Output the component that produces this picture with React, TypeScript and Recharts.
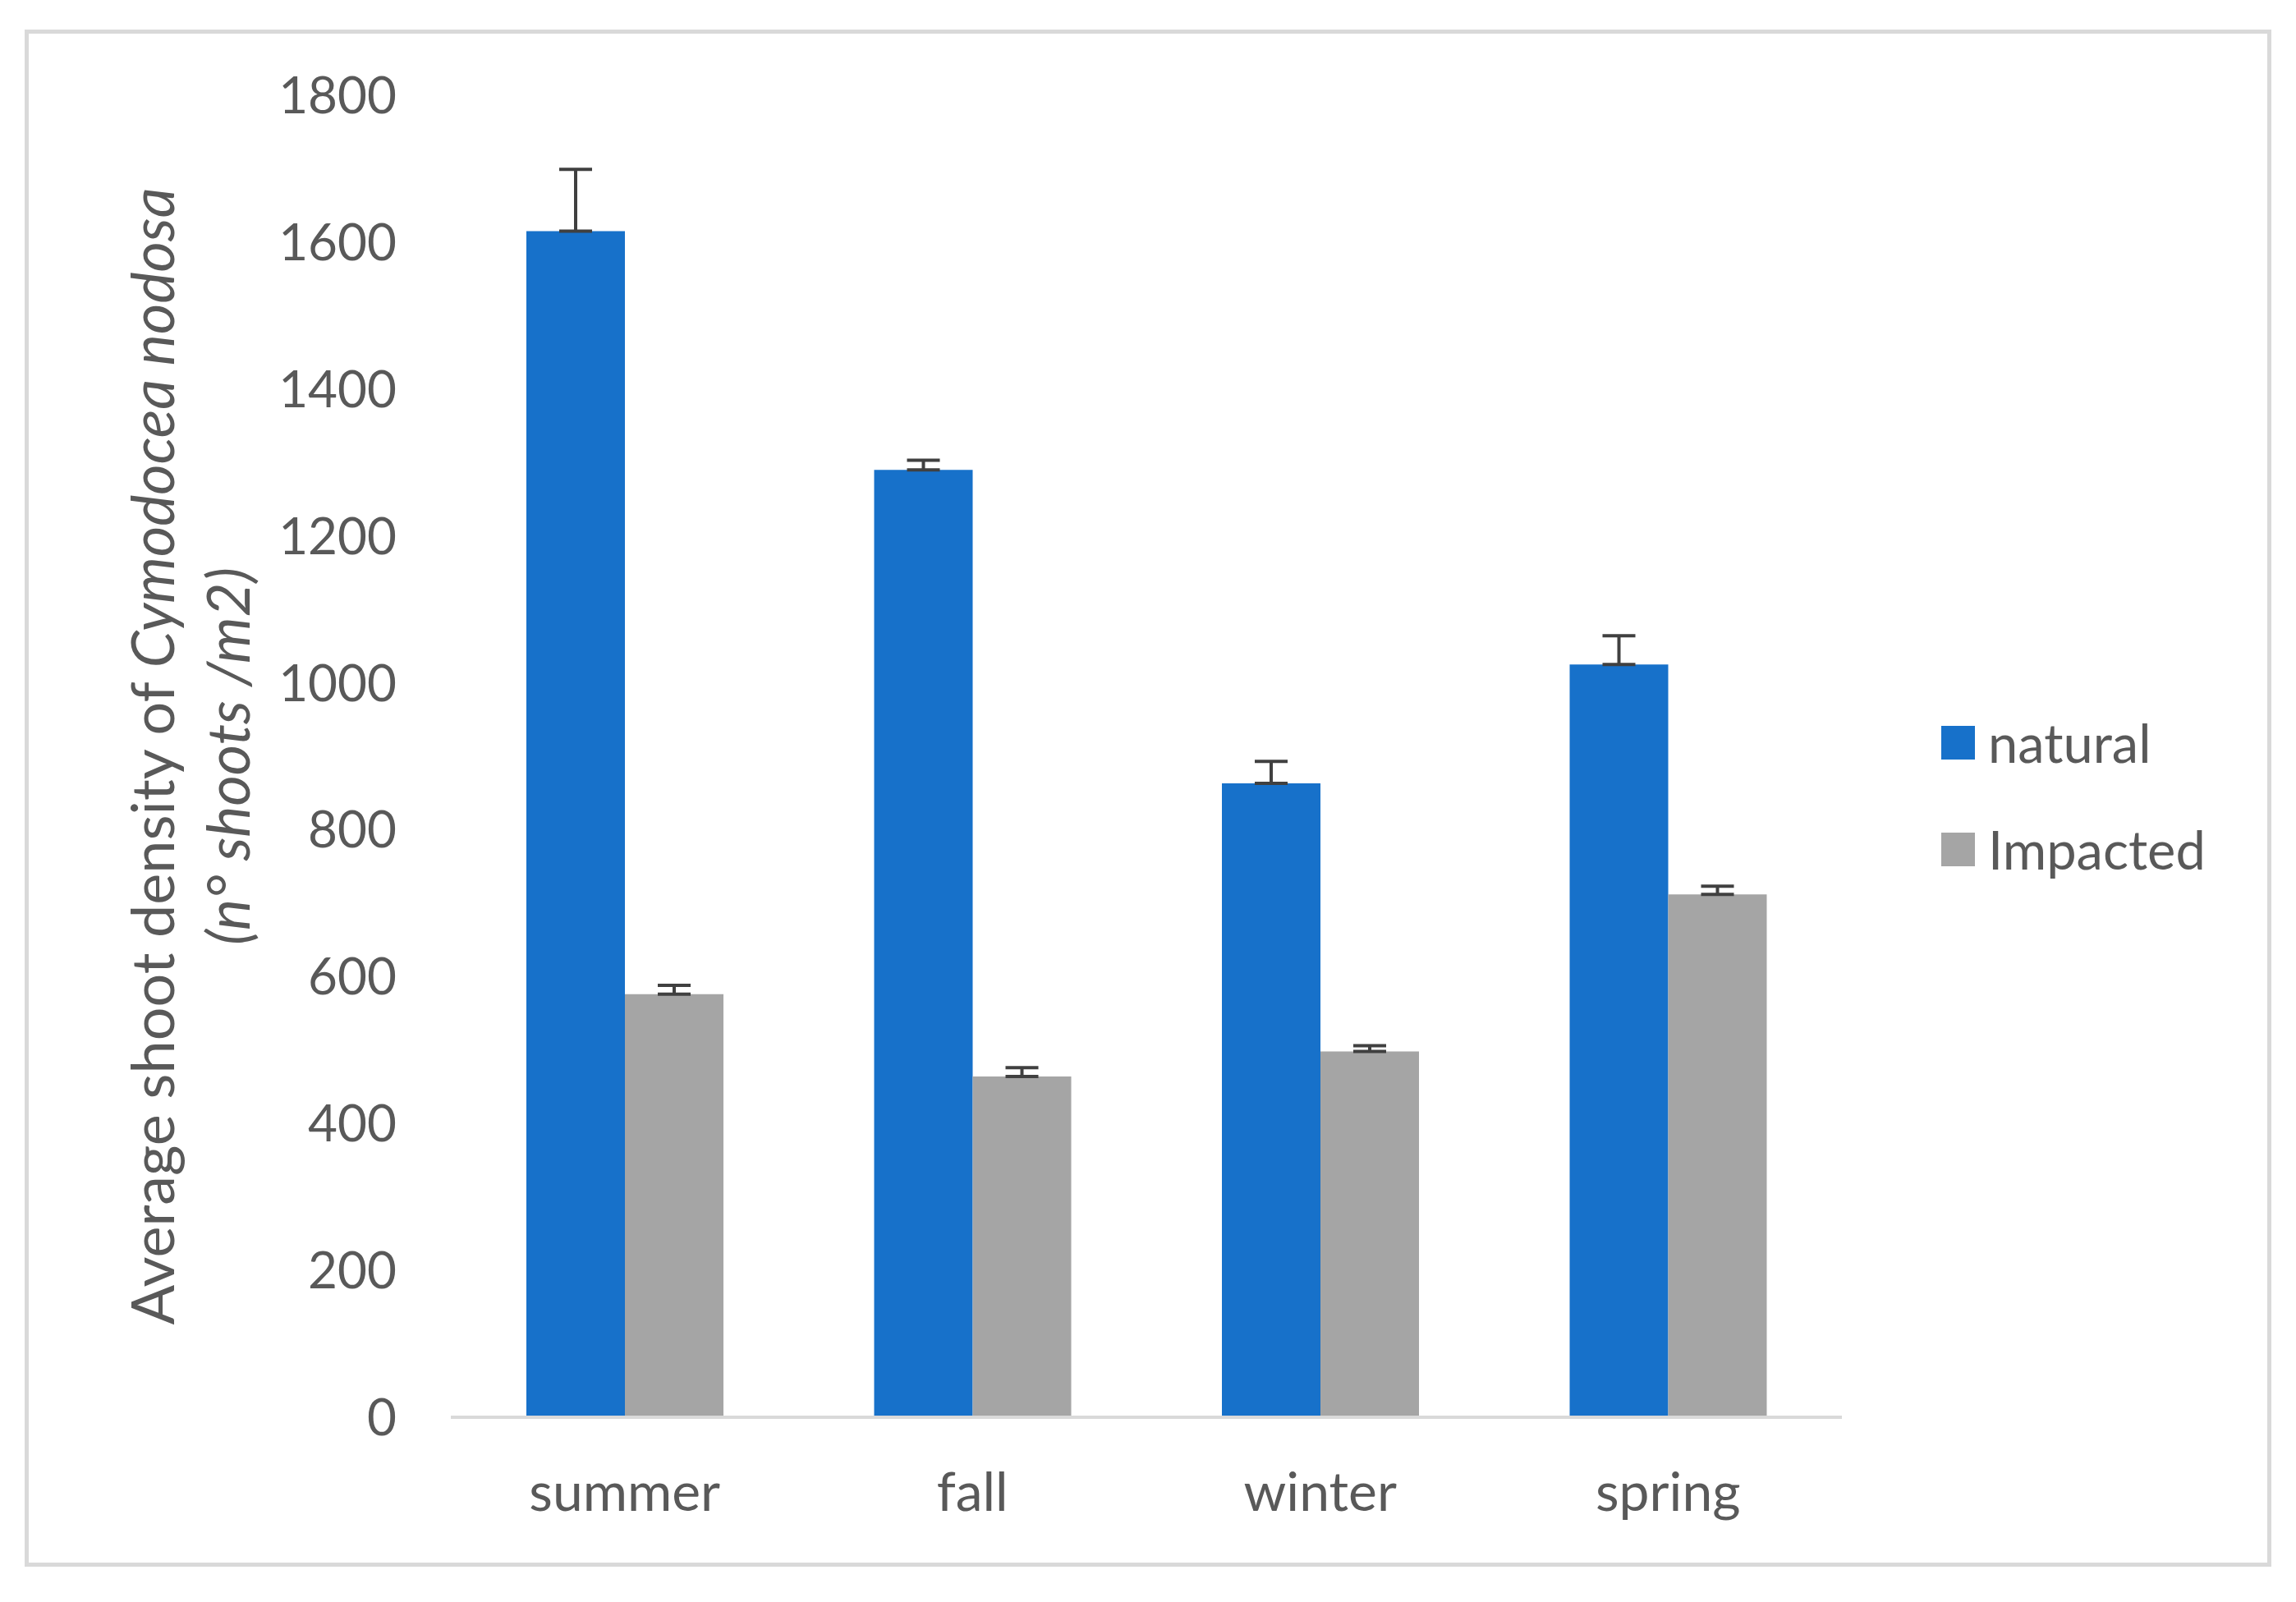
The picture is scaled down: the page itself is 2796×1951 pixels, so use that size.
import React from "react";
import { BarChart, Bar, XAxis, YAxis, ErrorBar } from "recharts";

// seasons on the x axis
const seasons = ["summer", "fall", "winter", "spring"];

// shoots / m2
const naturalValues = [1615, 1290, 863, 1025];
const naturalErrors = [84, 13, 30, 39];
const impactedValues = [576, 464, 498, 712];
const impactedErrors = [12, 12, 8, 11];

const yTicks = [0, 200, 400, 600, 800, 1000, 1200, 1400, 1600, 1800];

const seriesNames = ["natural", "Impacted"];
const seriesColors = ["#1771CA", "#A5A5A5"];

const data = seasons.map((season, i) => ({
  season,
  natural: naturalValues[i],
  naturalErr: [0, naturalErrors[i]],
  impacted: impactedValues[i],
  impactedErr: [0, impactedErrors[i]],
}));

const FONT = "Lato, 'Open Sans', sans-serif";
const TEXT = "#595959";

const YLabel = (props: any) => {
  const { viewBox } = props;
  const cy = viewBox.y + viewBox.height / 2;
  const x1 = viewBox.x - 165;
  const x2 = viewBox.x - 73;
  return (
    <g fill={TEXT} fontFamily={FONT} fontSize={72}>
      <text
        transform={`translate(${x1},${cy}) rotate(-90)`}
        textAnchor="middle"
        dominantBaseline="central"
      >
        Average shoot density of <tspan fontStyle="italic">Cymodocea nodosa</tspan>
      </text>
      <text
        transform={`translate(${x2},${cy}) rotate(-90)`}
        textAnchor="middle"
        dominantBaseline="central"
        fontStyle="italic"
      >
        (n° shoots /m2)
      </text>
    </g>
  );
};

// legend sits beside the plot, kept outside the chart so it does not shrink the plot
const SeriesLegend = () => (
  <div
    style={{
      position: "absolute",
      left: 2364,
      top: 839,
      fontFamily: FONT,
      color: TEXT,
      fontSize: 65,
    }}
  >
    {seriesNames.map((name, i) => (
      <div
        key={name}
        style={{ display: "flex", alignItems: "center", height: 130 }}
      >
        <span
          style={{
            display: "inline-block",
            width: 41,
            height: 41,
            background: seriesColors[i],
            marginRight: 16,
          }}
        />
        <span>{name}</span>
      </div>
    ))}
  </div>
);

export default function App() {
  return (
    <div
      style={{
        position: "absolute",
        left: 0,
        top: 0,
        width: 2796,
        height: 1951,
        background: "#fff",
      }}
    >
      <div
        style={{
          position: "absolute",
          left: 30,
          top: 36,
          width: 2736,
          height: 1872,
          border: "5px solid #d9d9d9",
          boxSizing: "border-box",
        }}
      />
      <div style={{ position: "absolute", left: 0, top: 0 }}>
        <BarChart
          width={2796}
          height={1951}
          data={data}
          margin={{ top: 116, right: 553, bottom: 75, left: 349 }}
          barGap={0}
          barSize={120}
        >
          <XAxis
            dataKey="season"
            tickLine={false}
            axisLine={{ stroke: "#d9d9d9", strokeWidth: 4 }}
            tick={{ fill: TEXT, fontSize: 66, fontFamily: FONT }}
            tickSize={0}
            tickMargin={67}
            height={150}
          />
          <YAxis
            domain={[0, 1800]}
            ticks={yTicks}
            interval={0}
            axisLine={false}
            tickLine={false}
            tickSize={0}
            tickMargin={66}
            width={200}
            tick={{ fill: TEXT, fontSize: 62, fontFamily: FONT }}
            label={{ content: YLabel }}
          />
          <Bar
            dataKey="natural"
            name={seriesNames[0]}
            fill={seriesColors[0]}
            isAnimationActive={false}
          >
            <ErrorBar
              dataKey="naturalErr"
              direction="y"
              width={20}
              strokeWidth={4}
              stroke="#404040"
              isAnimationActive={false}
            />
          </Bar>
          <Bar
            dataKey="impacted"
            name={seriesNames[1]}
            fill={seriesColors[1]}
            isAnimationActive={false}
          >
            <ErrorBar
              dataKey="impactedErr"
              direction="y"
              width={20}
              strokeWidth={4}
              stroke="#404040"
              isAnimationActive={false}
            />
          </Bar>
        </BarChart>
      </div>
      <SeriesLegend />
    </div>
  );
}
